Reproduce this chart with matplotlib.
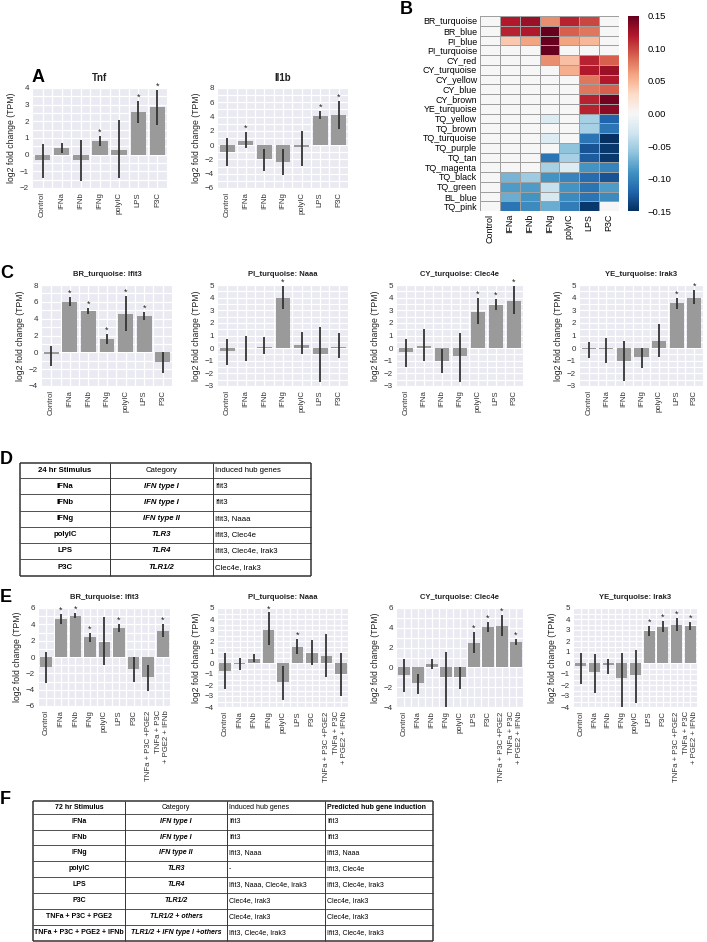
import numpy as np
import matplotlib
matplotlib.use("Agg")
import matplotlib.pyplot as plt

plt.rcParams['font.family'] = ['Liberation Sans', 'DejaVu Sans']
plt.rcParams['axes.unicode_minus'] = True

W, H = 707, 942

# ---------------- data ----------------
stim7 = ["Control", "IFNa", "IFNb", "IFNg", "polyIC", "LPS", "P3C"]
stim9 = stim7 + ["TNFa + P3C +PGE2", "TNFa + P3C\n+ PGE2 + IFNb"]

# panel A
tnf_val = [-0.3, 0.4, -0.3, 0.8, 0.25, 2.55, 2.85]
tnf_lo = [-1.4, 0.1, -1.6, 0.5, -1.4, 1.9, 1.8]
tnf_hi = [0.65, 0.7, 0.9, 1.1, 2.05, 3.2, 3.9]
tnf_star = [0, 0, 0, 1, 0, 1, 1]

il1b_val = [-0.9, 0.6, -2.0, -2.3, -0.2, 4.1, 4.2]
il1b_lo = [-2.9, -0.4, -3.6, -4.2, -2.9, 3.6, 2.2]
il1b_hi = [1.0, 1.9, -0.5, -0.6, 2.0, 4.8, 6.2]
il1b_star = [0, 1, 0, 0, 0, 1, 1]

# panel B
modules = ["BR_turquoise", "BR_blue", "PI_blue", "PI_turquoise", "CY_red",
           "CY_turquoise", "CY_yellow", "CY_blue", "CY_brown", "YE_turquoise",
           "TQ_yellow", "TQ_brown", "TQ_turquoise", "TQ_purple", "TQ_tan",
           "TQ_magenta", "TQ_black", "TQ_green", "BL_blue", "TQ_pink"]
heat = np.array([
    [0, 0.12, 0.13, 0.07, 0.115, 0.10, 0],
    [0, 0.115, 0.12, 0.15, 0.09, 0.08, 0],
    [0, 0.04, 0.06, 0.15, 0.06, 0.05, 0],
    [0, 0, 0, 0.15, 0, 0, 0],
    [0, 0, 0, 0.07, 0.045, 0.115, 0.09],
    [0, 0, 0, 0, 0.055, 0.12, 0.13],
    [0, 0, 0, 0, 0, 0.08, 0.12],
    [0, 0, 0, 0, 0, 0.08, 0.09],
    [0, 0, 0, 0, 0, 0.115, 0.145],
    [0, 0, 0, 0, 0, 0.115, 0.135],
    [0, 0, 0, -0.02, 0, -0.05, -0.12],
    [0, 0, 0, 0, 0, -0.05, -0.11],
    [0, 0, 0, -0.02, 0, -0.11, -0.15],
    [0, 0, 0, 0, -0.06, -0.13, -0.145],
    [0, 0, 0, -0.11, -0.05, -0.125, -0.145],
    [0, 0, 0, -0.05, -0.02, -0.09, -0.10],
    [0, -0.07, -0.055, -0.09, -0.10, -0.115, -0.13],
    [0, -0.085, -0.085, -0.035, -0.09, -0.11, -0.085],
    [0, -0.075, -0.09, -0.025, -0.095, -0.11, -0.095],
    [0, -0.11, -0.095, -0.075, -0.105, -0.145, 0],
])

# panel C (24 hr)
c_titles = ["BR_turquoise: Ifit3", "PI_turquoise: Naaa",
            "CY_turquoise: Clec4e", "YE_turquoise: Irak3"]
c_val = [[-0.2, 6.0, 4.9, 1.6, 4.5, 4.3, -1.1],
         [-0.2, 0.0, 0.1, 4.0, 0.25, -0.45, 0.1],
         [-0.3, 0.15, -1.0, -0.65, 2.9, 3.45, 3.75],
         [-0.05, -0.1, -1.0, -0.7, 0.6, 3.6, 4.0]]
c_lo = [[-1.6, 5.5, 4.5, 1.0, 2.5, 3.8, -2.4],
        [-1.3, -1.0, -0.5, 3.1, -0.5, -2.7, -0.8],
        [-1.5, -1.0, -1.95, -2.7, 1.9, 3.0, 2.7],
        [-0.8, -1.2, -2.6, -1.6, -0.7, 3.1, 3.5]]
c_hi = [[0.8, 6.6, 5.3, 2.2, 6.7, 4.8, 0.0],
        [0.7, 1.0, 0.9, 4.9, 1.25, 1.7, 1.2],
        [0.75, 1.55, -0.1, 1.2, 4.0, 3.9, 4.9],
        [0.5, 0.8, 0.55, 0.0, 1.9, 4.0, 4.6]]
c_star = [[0, 1, 1, 1, 1, 1, 0],
          [0, 0, 0, 1, 0, 0, 0],
          [0, 0, 0, 0, 1, 1, 1],
          [0, 0, 0, 0, 0, 1, 1]]
c_ylim = [(-4, 8, 2), (-3, 5, 1), (-3, 5, 1), (-3, 5, 1)]

# panel E (72 hr)
e_val = [[-1.2, 4.7, 5.0, 2.4, 1.8, 3.6, -1.5, -2.5, 3.2],
         [-0.7, -0.1, 0.4, 3.0, -1.7, 1.5, 0.9, 0.6, -1.0],
         [-0.8, -1.6, 0.3, -1.0, -1.0, 2.5, 4.1, 4.2, 2.6],
         [-0.3, -0.8, -0.2, -1.4, -1.1, 2.9, 3.3, 3.5, 3.4]]
e_lo = [[-3.2, 4.1, 4.8, 1.8, -1.0, 3.1, -3.0, -4.2, 2.5],
        [-2.4, -0.6, 0.1, 1.6, -3.4, 0.8, -0.2, -1.3, -3.0],
        [-2.5, -2.7, -0.2, -4.0, -2.2, 1.5, 3.6, 3.2, 2.3],
        [-1.9, -2.7, -1.0, -4.0, -3.6, 2.5, 2.8, 2.9, 3.0]]
e_hi = [[0.6, 5.3, 5.4, 3.0, 4.9, 4.1, 0.0, -1.0, 4.0],
        [0.9, 0.5, 0.8, 4.6, -0.3, 2.2, 2.1, 2.6, 0.9],
        [0.8, -0.7, 0.85, 1.6, 0.0, 3.6, 4.6, 5.3, 2.9],
        [0.9, 0.8, 0.4, 0.9, 1.2, 3.4, 3.8, 4.1, 3.7]]
e_star = [[0, 1, 1, 1, 0, 1, 0, 0, 1],
          [0, 0, 0, 1, 0, 1, 0, 0, 0],
          [0, 0, 0, 0, 0, 1, 1, 1, 1],
          [0, 0, 0, 0, 0, 1, 1, 1, 1]]
e_ylim = [(-6, 6, 2), (-4, 5, 1), (-4, 6, 2), (-4, 5, 1)]

# panel D / F tables
d_header = ["24 hr Stimulus", "Category", "Induced hub genes"]
d_stim = ["IFNa", "IFNb", "IFNg", "polyIC", "LPS", "P3C"]
d_cat = ["IFN type I", "IFN type I", "IFN type II", "TLR3", "TLR4", "TLR1/2"]
d_genes = ["Ifit3", "Ifit3", "Ifit3, Naaa", "Ifit3, Clec4e",
           "Ifit3, Clec4e, Irak3", "Clec4e, Irak3"]

f_header = ["72 hr Stimulus", "Category", "Induced hub genes",
            "Predicted hub gene induction"]
f_stim = ["IFNa", "IFNb", "IFNg", "polyIC", "LPS", "P3C",
          "TNFa + P3C + PGE2", "TNFa + P3C + PGE2 + IFNb"]
f_cat = ["IFN type I", "IFN type I", "IFN type II", "TLR3", "TLR4", "TLR1/2",
         "TLR1/2 + others", "TLR1/2 + IFN type I +others"]
f_genes = ["Ifit3", "Ifit3", "Ifit3, Naaa", "-", "Ifit3, Naaa, Clec4e, Irak3",
           "Clec4e, Irak3", "Clec4e, Irak3", "Ifit3, Clec4e, Irak3"]
f_pred = ["Ifit3", "Ifit3", "Ifit3, Naaa", "Ifit3, Clec4e",
          "Ifit3, Clec4e, Irak3", "Clec4e, Irak3", "Clec4e, Irak3",
          "Ifit3, Clec4e, Irak3"]

# ---------------- figure ----------------
fig = plt.figure(figsize=(W / 100, H / 100), dpi=100)


def px_axes(l, t, r, b):
    return fig.add_axes([l / W, 1 - b / H, (r - l) / W, (b - t) / H])


def bar_panel(rect, title, cats, val, lo, hi, star, ylim, tsize=5.5, tpad=4):
    ax = px_axes(*rect)
    ax.set_facecolor('#EAEAF2')
    x = np.arange(len(cats))
    ax.bar(x, val, width=0.8, color='#9a9a9a', zorder=2)
    ax.vlines(x, lo, hi, color='#333333', lw=1.3, zorder=3)
    for xi, h, s in zip(x, hi, star):
        if s:
            ax.annotate('*', (xi, h), xytext=(0, 0.8), textcoords='offset points',
                        ha='center', va='baseline', fontsize=6.5,
                        color='#222222', annotation_clip=False)
    y0, y1, st = ylim
    ax.set_xlim(-0.5, len(cats) - 0.5)
    ax.set_ylim(y0, y1)
    ax.set_yticks(np.arange(y0, y1 + 0.01, st))
    ax.set_yticks(np.arange(y0, y1, st) + st / 2, minor=True)
    ax.set_xticks(x)
    ax.set_xticks(x[:-1] + 0.5, minor=True)
    ax.set_xticklabels(cats, rotation=90, fontsize=5.6, color='#333333',
                       multialignment='right')
    ax.tick_params(axis='y', labelsize=5.8, labelcolor='#333333')
    ax.tick_params(which='both', length=0, pad=3)
    ax.grid(which='both', color='white', lw=0.9)
    ax.set_axisbelow(True)
    for s in ax.spines.values():
        s.set_visible(False)
    ax.set_ylabel('log2 fold change (TPM)', fontsize=6.2, color='#222222',
                  labelpad=3)
    ax.set_title(title, fontsize=tsize, fontweight='bold', color='#222222',
                 pad=tpad)
    return ax


# panel A
bar_panel((33, 88, 167, 188), 'Tnf', stim7, tnf_val, tnf_lo, tnf_hi, tnf_star,
          (-2, 4, 1), tsize=7, tpad=5)
bar_panel((218, 88, 348, 188), 'Il1b', stim7, il1b_val, il1b_lo, il1b_hi,
          il1b_star, (-6, 8, 2), tsize=7, tpad=5)

# panel B heatmap
hax = px_axes(480, 16, 619, 211)
mesh = hax.pcolormesh(heat, cmap='RdBu_r', vmin=-0.15, vmax=0.15,
                      edgecolors='#a0a0a0', linewidth=0.6)
hax.set_xlim(0, heat.shape[1])
hax.set_ylim(heat.shape[0], 0)
hax.set_yticks(np.arange(len(modules)) + 0.5)
hax.set_yticklabels(modules, fontsize=6.4)
hax.set_xticks(np.arange(len(stim7)) + 0.5)
hax.set_xticklabels(stim7, rotation=90, fontsize=6.4)
hax.tick_params(length=0, pad=2)
for s in hax.spines.values():
    s.set_visible(False)
cax = px_axes(628, 16, 639, 211)
cb = fig.colorbar(mesh, cax=cax, ticks=np.arange(-0.15, 0.151, 0.05))
cb.ax.yaxis.set_major_formatter(matplotlib.ticker.FuncFormatter(
    lambda v, p: ('%.2f' % (0.0 if abs(v) < 1e-9 else v)).replace('-', '\u2212')))
cb.ax.tick_params(length=0, labelsize=6.8, pad=6)
cb.outline.set_visible(False)

# panel C
c_rects = [(42, 285, 172, 386), (218, 285, 348, 386),
           (397, 285, 523, 386), (580, 285, 703, 386)]
for i in range(4):
    bar_panel(c_rects[i], c_titles[i], stim7, c_val[i], c_lo[i], c_hi[i],
              c_star[i], c_ylim[i], tsize=5.5, tpad=6.5)

# panel E
e_rects = [(39, 608, 170, 706), (218, 608, 348, 707),
           (397, 608, 523, 707), (574, 608, 697, 707)]
for i in range(4):
    bar_panel(e_rects[i], c_titles[i], stim9, e_val[i], e_lo[i], e_hi[i],
              e_star[i], e_ylim[i], tsize=5.5, tpad=6.5)


# tables
def draw_table(cols, rows_y, header, columns, hdr_bold, colstyle, fs):
    tab = fig.add_axes([0, 0, 1, 1], zorder=5)
    tab.set_xlim(0, W)
    tab.set_ylim(H, 0)
    tab.axis('off')
    x0, x1 = cols[0], cols[-1]
    for k, y in enumerate(rows_y):
        outer = k in (0, len(rows_y) - 1)
        tab.plot([x0, x1], [y, y], color='#333333', lw=1.1 if outer else 0.6,
                 solid_capstyle='butt')
    for k, x in enumerate(cols):
        outer = k in (0, len(cols) - 1)
        tab.plot([x, x], [rows_y[0], rows_y[-1]], color='#333333',
                 lw=1.1 if outer else 0.7, solid_capstyle='butt')
    nrow = len(rows_y) - 1
    for r in range(nrow):
        yc = (rows_y[r] + rows_y[r + 1]) / 2
        for c in range(len(cols) - 1):
            txt = header[c] if r == 0 else columns[c][r - 1]
            align, weight, style = colstyle[c]
            if r == 0:
                weight, style = ('bold' if hdr_bold[c] else 'normal'), 'normal'
            if align == 'center':
                xt = (cols[c] + cols[c + 1]) / 2
            else:
                xt = cols[c] + 2
            tab.text(xt, yc, txt, ha=align, va='center', fontsize=fs,
                     fontweight=weight, fontstyle=style, color='black')


draw_table([20, 110, 213, 311],
           [463, 478, 494, 511, 527, 543, 559, 576],
           d_header, [d_stim, d_cat, d_genes], [True, False, False],
           [('center', 'bold', 'normal'), ('center', 'bold', 'italic'),
            ('left', 'normal', 'normal')], 5.6)

draw_table([33, 125, 227, 325, 433],
           [801, 814, 829.5, 845, 861, 877, 893, 909, 925, 941],
           f_header, [f_stim, f_cat, f_genes, f_pred],
           [True, False, False, True],
           [('center', 'bold', 'normal'), ('center', 'bold', 'italic'),
            ('left', 'normal', 'normal'), ('left', 'normal', 'normal')], 5.0)

# panel letters
for lab, x, y in [('A', 32, 77), ('B', 400, 10), ('C', 0, 274),
                  ('D', 0, 460), ('E', 0, 598), ('F', 0, 800)]:
    fig.text(x / W, 1 - y / H, lab, fontsize=13, fontweight='bold',
             ha='left', va='center')

fig.savefig('out.png', dpi=100)
